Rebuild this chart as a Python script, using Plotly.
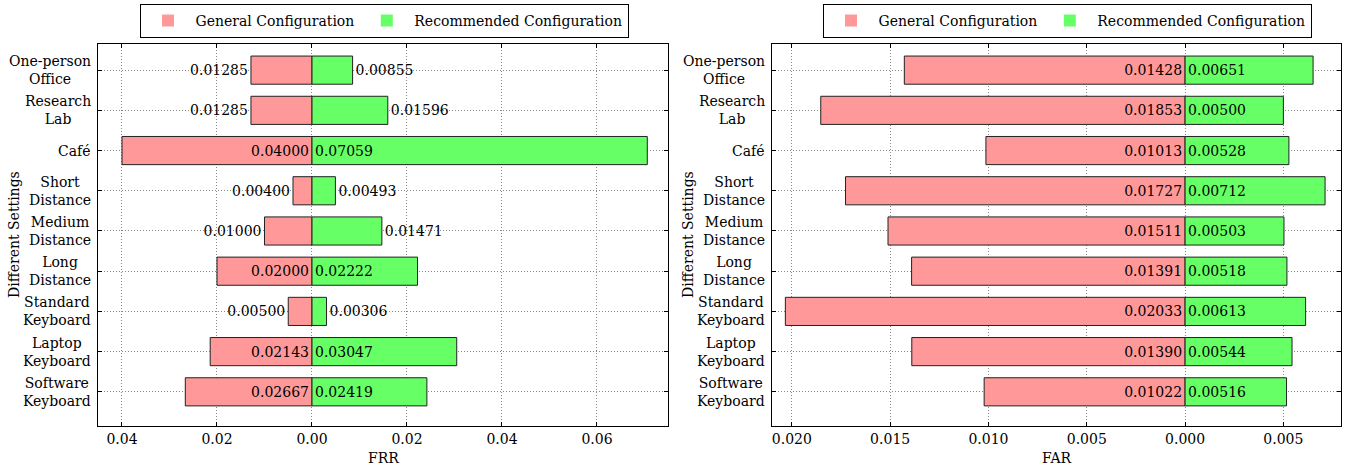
import plotly.graph_objects as go

settings = ["One-person<br>Office", "Research<br>Lab", "Café", "Short<br>Distance",
            "Medium<br>Distance", "Long<br>Distance", "Standard<br>Keyboard",
            "Laptop<br>Keyboard", "Software<br>Keyboard"]

frr_general = [0.01285, 0.01285, 0.04000, 0.00400, 0.01000, 0.02000, 0.00500, 0.02143, 0.02667]
frr_recommended = [0.00855, 0.01596, 0.07059, 0.00493, 0.01471, 0.02222, 0.00306, 0.03047, 0.02419]
far_general = [0.01428, 0.01853, 0.01013, 0.01727, 0.01511, 0.01391, 0.02033, 0.01390, 0.01022]
far_recommended = [0.00651, 0.00500, 0.00528, 0.00712, 0.00503, 0.00518, 0.00613, 0.00544, 0.00516]

frr_ticks = [-0.04, -0.02, 0.0, 0.02, 0.04, 0.06]
far_ticks = [-0.020, -0.015, -0.010, -0.005, 0.0, 0.005]

series_names = ["General Configuration", "Recommended Configuration"]
colors = ["#FF9999", "#66FF66"]

FONT = "DejaVu Serif"
FS = 14
W, H = 1352, 468

panels = [
    dict(gen=frr_general, rec=frr_recommended, ticks=frr_ticks, fmt="{:.2f}", title="FRR",
         rng=[-0.04505, 0.07495], dom=[98 / W, 668 / W], sfx="", legend="legend"),
    dict(gen=far_general, rec=far_recommended, ticks=far_ticks, fmt="{:.3f}", title="FAR",
         rng=[-0.02101, 0.00793], dom=[772 / W, 1341 / W], sfx="2", legend="legend2"),
]

ydom = [1 - 426 / H, 1 - 44 / H]
n = len(settings)
yrange = [n - 1 + 0.85, -0.65]

fig = go.Figure()
annotations = []

for p in panels:
    span = p["rng"][1] - p["rng"][0]
    xa, ya = "x" + p["sfx"], "y" + p["sfx"]
    for vals, sign, name, col in [(p["gen"], -1, series_names[0], colors[0]),
                                  (p["rec"], 1, series_names[1], colors[1])]:
        pos = ["inside" if v / span >= 0.15 else "outside" for v in vals]
        fig.add_trace(go.Bar(
            y=settings, x=[sign * v for v in vals], orientation="h",
            marker=dict(color=col, line=dict(color="#222222", width=1)),
            width=0.7, text=["{:.5f}".format(v) for v in vals],
            textposition=pos, insidetextanchor="start", constraintext="none",
            textfont=dict(family=FONT, size=FS, color="black"),
            insidetextfont=dict(family=FONT, size=FS, color="black"),
            outsidetextfont=dict(family=FONT, size=FS, color="black"),
            cliponaxis=False, showlegend=False, hoverinfo="skip",
            xaxis=xa, yaxis=ya, name=name,
        ))
        fig.add_trace(go.Bar(
            y=[None], x=[None], orientation="h", name=name,
            marker=dict(color=col, line=dict(width=0)),
            xaxis=xa, yaxis=ya, legend=p["legend"], showlegend=True,
        ))

    axis_common = dict(showline=True, linecolor="black", linewidth=1, mirror="ticks",
                       ticks="inside", ticklen=4, tickcolor="black",
                       showgrid=True, gridcolor="#888888", griddash="1px,2px", gridwidth=1,
                       zeroline=False, tickfont=dict(family=FONT, size=FS, color="black"))
    fig.update_layout(**{
        "xaxis" + p["sfx"]: dict(axis_common, domain=p["dom"], range=p["rng"],
                                 anchor=ya, tickvals=p["ticks"],
                                 ticktext=[p["fmt"].format(abs(t)) for t in p["ticks"]]),
        "yaxis" + p["sfx"]: dict(axis_common, domain=ydom, range=yrange, anchor=xa,
                                 type="category", categoryorder="array", categoryarray=settings,
                                 showticklabels=False),
    })
    for s in settings:
        annotations.append(dict(x=p["dom"][0] - 5 / W, y=s, xref="paper", yref=ya,
                                text=s, showarrow=False, xanchor="right", yanchor="middle",
                                align="center", font=dict(family=FONT, size=FS, color="black")))
    annotations.append(dict(x=(p["dom"][0] + p["dom"][1]) / 2, y=1 - 458 / H, xref="paper",
                            yref="paper", text=p["title"], showarrow=False, xanchor="center",
                            yanchor="middle", font=dict(family=FONT, size=FS, color="black")))
    annotations.append(dict(x=p["dom"][0] - 84 / W, y=(ydom[0] + ydom[1]) / 2, xref="paper",
                            yref="paper", text="Different Settings", showarrow=False,
                            textangle=-90, xanchor="center", yanchor="middle",
                            font=dict(family=FONT, size=FS, color="black")))

legend_common = dict(orientation="h", xanchor="center", yanchor="top", y=1 - 4 / H,
                     bordercolor="black", borderwidth=1, bgcolor="white", itemwidth=45,
                     font=dict(family=FONT, size=FS, color="black"))

fig.update_layout(
    width=W, height=H, margin=dict(l=0, r=0, t=0, b=0),
    plot_bgcolor="white", paper_bgcolor="white",
    barmode="overlay", bargap=0.3,
    legend=dict(legend_common, x=384 / W),
    legend2=dict(legend_common, x=1067 / W),
    annotations=annotations,
    font=dict(family=FONT, size=FS, color="black"),
)

fig.write_html("out.html", config={"displayModeBar": False},
               post_script="document.body.style.margin='0';document.body.style.overflow='hidden';")
